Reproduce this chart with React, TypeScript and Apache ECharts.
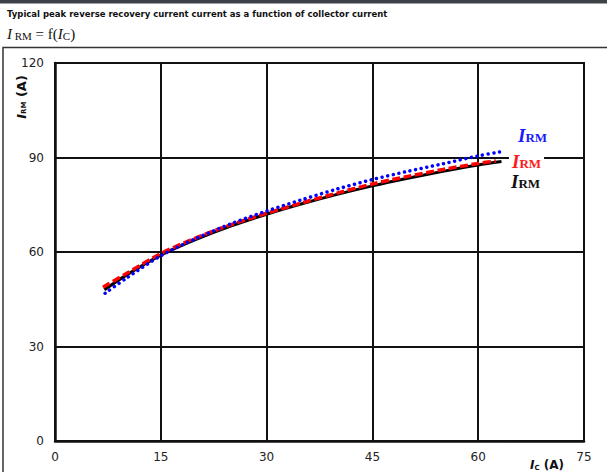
import React, { useEffect, useRef } from "react";
import * as echarts from "echarts";

const xTicks = [0, 15, 30, 45, 60, 75];
const yTicks = [0, 30, 60, 90, 120];

const blackIC = [7, 10, 15, 20, 25, 30, 35, 40, 45, 50, 55, 60, 63.3];
const blackIRM = [48, 52.5, 59, 64, 68.3, 72, 75.3, 78.3, 81, 83.4, 85.6, 87.6, 88.7];

const redIC = [6.8, 10, 15, 20, 25, 30, 35, 40, 45, 50, 55, 60, 62.5];
const redIRM = [48.8, 53, 59.5, 64.5, 68.7, 72.3, 75.6, 78.7, 81.6, 84, 86.2, 88.1, 88.9];

const blueIC = [7.1, 10, 15, 20, 25, 30, 35, 40, 45, 50, 55, 60, 63.2];
const blueIRM = [46.9, 51.5, 58.8, 64.3, 69, 73, 76.6, 80, 83, 85.6, 88, 90.5, 91.8];

const title = "Typical peak reverse recovery current current as a function of collector current";

const pairs = (xs: number[], ys: number[]) => xs.map((x, i) => [x, ys[i]]);

const serifLabel = (color: string) => ({
  I: { fontFamily: "Liberation Serif", fontStyle: "italic", fontWeight: "bold", fontSize: 19, fill: color },
  s: { fontFamily: "Liberation Serif", fontWeight: "bold", fontSize: 13, fill: color, padding: [4, 0, 0, 0] },
});

export default function App() {
  const ref = useRef<HTMLDivElement>(null);
  useEffect(() => {
    if (!ref.current) return;
    document.body.style.margin = "0";
    const chart = echarts.init(ref.current, null, { renderer: "svg" });
    const axisFont = { fontFamily: "DejaVu Sans", fontSize: 12, color: "#222" };
    chart.setOption({
      animation: false,
      backgroundColor: "#fff",
      grid: { left: 55, right: 23, top: 63, bottom: 31, show: true, borderColor: "#111", borderWidth: 2 },
      xAxis: {
        type: "value",
        min: 0,
        max: 75,
        interval: 15,
        axisLine: { show: true, lineStyle: { color: "#111", width: 2.5 } },
        axisTick: { show: false },
        axisLabel: { ...axisFont, margin: 10, formatter: (v: number) => (xTicks.includes(v) ? String(v) : "") },
        splitLine: { show: true, lineStyle: { color: "#111", width: 2 } },
      },
      yAxis: {
        type: "value",
        min: 0,
        max: 120,
        interval: 30,
        axisLine: { show: true, lineStyle: { color: "#111", width: 2.5 } },
        axisTick: { show: false },
        axisLabel: { ...axisFont, margin: 11, formatter: (v: number) => (yTicks.includes(v) ? String(v) : "") },
        splitLine: { show: true, lineStyle: { color: "#111", width: 2 } },
      },
      series: [
        {
          type: "line",
          data: pairs(blackIC, blackIRM),
          smooth: 0.3,
          symbol: "none",
          lineStyle: { color: "#000", width: 3 },
          z: 3,
        },
        {
          type: "line",
          data: pairs(redIC, redIRM),
          smooth: 0.3,
          symbol: "none",
          lineStyle: { color: "#ff0000", width: 3.5, type: [8, 3.5] },
          z: 4,
        },
        {
          type: "line",
          data: pairs(blueIC, blueIRM),
          smooth: 0.3,
          symbol: "none",
          lineStyle: { color: "#0000ff", width: 3.5, type: [0.01, 5.7], cap: "round" },
          z: 5,
        },
      ],
      graphic: [
        { type: "rect", shape: { x: 0, y: 0, width: 607, height: 3.5 }, style: { fill: "#3c4248" } },
        {
          type: "rect",
          shape: { x: 3, y: 47.5, width: 640, height: 460 },
          style: { fill: "none", stroke: "#333", lineWidth: 1.5 },
          silent: true,
        },
        {
          type: "text",
          x: 7,
          y: 13.5,
          style: {
            text: title,
            fontFamily: "DejaVu Sans",
            fontWeight: "bold",
            fontSize: 8.5,
            fill: "#111",
            verticalAlign: "middle",
          },
        },
        {
          type: "text",
          x: 7,
          y: 34,
          style: {
            text: "{I|I}{s| RM}{n| = f(}{I|I}{s|C}{n|)}",
            verticalAlign: "middle",
            rich: {
              I: { fontFamily: "Liberation Serif", fontStyle: "italic", fontSize: 15, fill: "#111" },
              s: { fontFamily: "Liberation Serif", fontSize: 11, fill: "#111", padding: [3, 0, 0, 0] },
              n: { fontFamily: "Liberation Serif", fontSize: 15, fill: "#111" },
            },
          },
        },
        {
          type: "text",
          x: 21,
          y: 97,
          rotation: Math.PI / 2,
          style: {
            text: "{I|I}{s|RM}{n| (A)}",
            align: "center",
            verticalAlign: "middle",
            rich: {
              I: { fontFamily: "DejaVu Sans", fontStyle: "italic", fontWeight: "bold", fontSize: 13, fill: "#111" },
              s: { fontFamily: "DejaVu Sans", fontWeight: "bold", fontSize: 7, fill: "#111", padding: [5, 0, 0, 0] },
              n: { fontFamily: "DejaVu Sans", fontWeight: "bold", fontSize: 13, fill: "#111" },
            },
          },
        },
        {
          type: "text",
          x: 530,
          y: 459,
          style: {
            text: "{I|I}{s|C}{n| (A)}",
            verticalAlign: "top",
            rich: {
              I: { fontFamily: "DejaVu Sans", fontStyle: "italic", fontWeight: "bold", fontSize: 12, fill: "#111" },
              s: { fontFamily: "DejaVu Sans", fontWeight: "bold", fontSize: 7, fill: "#111", padding: [5, 0, 0, 0] },
              n: { fontFamily: "DejaVu Sans", fontWeight: "bold", fontSize: 12, fill: "#111" },
            },
          },
        },
        {
          type: "text",
          x: 518,
          y: 135,
          z: 10,
          style: { text: "{I|I}{s|RM}", verticalAlign: "middle", rich: serifLabel("#1a1aff") },
        },
        {
          type: "text",
          x: 509,
          y: 161,
          z: 10,
          style: {
            text: "{I|I}{s|RM}",
            verticalAlign: "middle",
            backgroundColor: "#fff",
            padding: [0, 3, 0, 3],
            rich: serifLabel("#ff1a1a"),
          },
        },
        {
          type: "text",
          x: 511,
          y: 181,
          z: 10,
          style: { text: "{I|I}{s|RM}", verticalAlign: "middle", rich: serifLabel("#111") },
        },
      ],
    });
    return () => chart.dispose();
  }, []);
  return (
    <div
      ref={ref}
      style={{ position: "fixed", left: 0, top: 0, width: 607, height: 472, background: "#fff" }}
    />
  );
}
